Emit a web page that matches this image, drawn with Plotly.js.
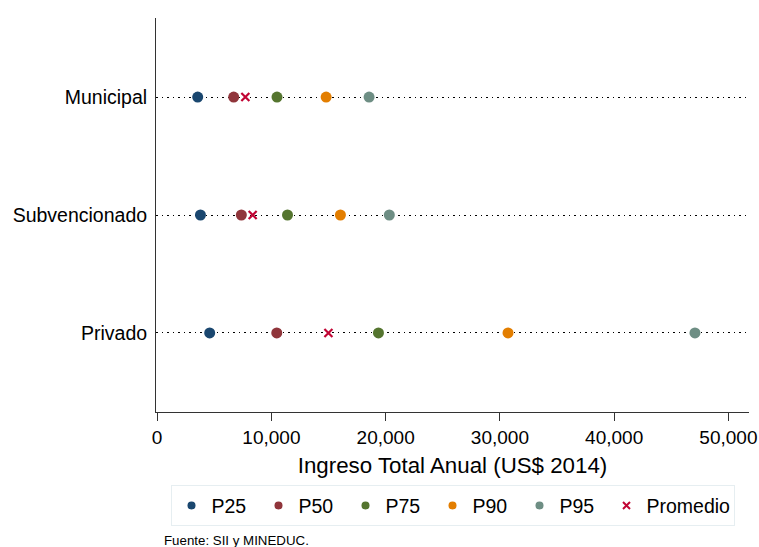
<!DOCTYPE html>
<html>
<head>
<meta charset="utf-8">
<script src="https://cdn.plot.ly/plotly-3.0.1.min.js"></script>
<style>html,body{margin:0;padding:0;background:#fff;}#chart{width:759px;height:547px;}</style>
</head>
<body>
<div id="chart"></div>
<script>
const categories = ['Municipal', 'Subvencionado', 'Privado'];
const p25 = [3550, 3790, 4600];
const p50 = [6700, 7370, 10470];
const p75 = [10490, 11410, 19370];
const p90 = [14790, 16040, 30710];
const p95 = [18550, 20320, 47070];
const promedio = [7720, 8360, 14990];
const seriesNames = ['P25', 'P50', 'P75', 'P90', 'P95', 'Promedio'];
const seriesColors = ['#1a476f', '#90353b', '#55752f', '#e37e00', '#6e8e84', '#c10534'];
const xTicks = [0, 10000, 20000, 30000, 40000, 50000];

const font = 'Liberation Sans, Arial, sans-serif';
const allSeries = [p25, p50, p75, p90, p95, promedio];
const traces = [];
allSeries.forEach((vals, i) => {
  const isX = seriesNames[i] === 'Promedio';
  const marker = isX
    ? {symbol: 'x-thin-open', size: 8, color: seriesColors[i], line: {width: 2.2, color: seriesColors[i]}}
    : {symbol: 'circle', size: 11, color: seriesColors[i], line: {width: 0}};
  traces.push({
    type: 'scatter', mode: 'markers', name: seriesNames[i],
    x: vals, y: categories, marker: marker, showlegend: false, cliponaxis: false
  });
});
// legend entries (smaller symbols as in the reference legend)
seriesNames.forEach((nm, i) => {
  const isX = nm === 'Promedio';
  traces.push({
    type: 'scatter', mode: 'markers', name: nm, x: [null], y: [null],
    marker: isX
      ? {symbol: 'x-thin-open', size: 7, color: seriesColors[i], line: {width: 2, color: seriesColors[i]}}
      : {symbol: 'circle', size: 8, color: seriesColors[i], line: {width: 0}},
    legendwidth: isX ? 82 : 42,
    showlegend: true, hoverinfo: 'skip'
  });
});

const layout = {
  width: 759, height: 547,
  margin: {l: 156, r: 10, t: 18, b: 135, pad: 0},
  paper_bgcolor: '#ffffff', plot_bgcolor: '#ffffff',
  font: {family: font, color: '#000000', size: 19},
  showlegend: true,
  xaxis: {
    range: [-100, 51800], tickvals: xTicks, tickformat: ',d',
    ticks: 'outside', ticklen: 8, tickwidth: 1, tickcolor: '#333333',
    showline: true, linecolor: '#333333', linewidth: 1,
    showgrid: false, zeroline: false,
    tickfont: {family: font, size: 19, color: '#000'},
    title: {text: 'Ingreso Total Anual (US$ 2014)', font: {family: font, size: 22.3, color: '#000'}, standoff: 10}
  },
  yaxis: {
    type: 'category', categoryarray: categories.slice().reverse(),
    range: [-0.67, 2.67],
    ticks: '', showline: true, linecolor: '#333333', linewidth: 1,
    showgrid: true, gridcolor: '#000000', gridwidth: 1, griddash: '1.6px,3.9px',
    zeroline: false, ticklabelstandoff: 4,
    tickfont: {family: font, size: 19.5, color: '#000'}
  },
  legend: {
    orientation: 'h', x: 0.5, xanchor: 'center', y: -0.186, yanchor: 'top',
    bgcolor: '#ffffff', bordercolor: '#e6eef1', borderwidth: 1,
    font: {family: font, size: 19.5, color: '#000'},
    entrywidth: 42, traceorder: 'normal'
  },
  annotations: [{
    xref: 'paper', yref: 'paper', x: 0.0096, y: -0.327, xanchor: 'left', yanchor: 'middle',
    text: 'Fuente: SII y MINEDUC.', showarrow: false,
    font: {family: font, size: 13.3, color: '#000'}
  }]
};

Plotly.newPlot('chart', traces, layout, {displayModeBar: false, staticPlot: true});
</script>
</body>
</html>
